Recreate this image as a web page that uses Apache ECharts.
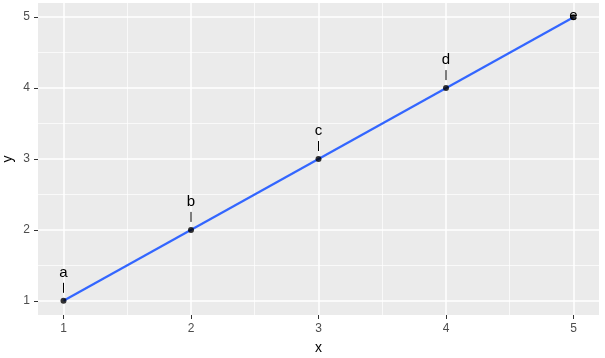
<!DOCTYPE html>
<html>
<head>
<meta charset="utf-8">
<script src="https://cdn.jsdelivr.net/npm/echarts@6/dist/echarts.min.js"></script>
<style>html,body{margin:0;padding:0;background:#fff;}#c{width:605px;height:358px;}</style>
</head>
<body>
<div id="c"></div>
<script>
var xValues = [1, 2, 3, 4, 5];
var yValues = [1, 2, 3, 4, 5];
var pointLabels = ['a', 'b', 'c', 'd', 'e'];
var fitLine = [[1, 1], [5, 5]];
var majorTicks = [1, 2, 3, 4, 5];
var minorTicks = [1.5, 2.5, 3.5, 4.5];
var axisMin = 0.8, axisMax = 5.2;

var points = xValues.map(function (x, i) { return [x, yValues[i], pointLabels[i]]; });

var gridLines = [];
majorTicks.forEach(function (v) {
  gridLines.push({ xAxis: v, lineStyle: { width: 1.5 } });
  gridLines.push({ yAxis: v, lineStyle: { width: 1.5 } });
});
minorTicks.forEach(function (v) {
  gridLines.push({ xAxis: v, lineStyle: { width: 0.7 } });
  gridLines.push({ yAxis: v, lineStyle: { width: 0.7 } });
});

var chart = echarts.init(document.getElementById('c'), null, { renderer: 'canvas' });
var font = 'Liberation Sans, Arial, sans-serif';
chart.setOption({
  animation: false,
  backgroundColor: '#ffffff',
  grid: { left: 38, right: 6, top: 3, bottom: 43, show: true, backgroundColor: '#EBEBEB', borderWidth: 0,
    containLabel: false, outerBoundsMode: 'none' },
  xAxis: {
    type: 'value', min: axisMin, max: axisMax,
    name: 'x', nameLocation: 'middle', nameGap: 26,
    nameTextStyle: { fontFamily: font, fontSize: 14, color: '#000' },
    axisLine: { show: false },
    splitLine: { show: false },
    axisTick: { show: true, length: 4, customValues: majorTicks, lineStyle: { color: '#333333', width: 1 } },
    axisLabel: { customValues: majorTicks, margin: 8, fontFamily: font, fontSize: 12, color: '#4D4D4D' }
  },
  yAxis: {
    type: 'value', min: axisMin, max: axisMax,
    name: 'y', nameLocation: 'middle', nameGap: 23, nameMoveOverlap: false,
    nameTextStyle: { fontFamily: font, fontSize: 14, color: '#000' },
    axisLine: { show: false },
    splitLine: { show: false },
    axisTick: { show: true, length: 4, customValues: majorTicks, lineStyle: { color: '#333333', width: 1 } },
    axisLabel: { customValues: majorTicks, margin: 8, fontFamily: font, fontSize: 12, color: '#4D4D4D' }
  },
  series: [
    {
      type: 'line', data: [], silent: true, z: 1,
      markLine: { silent: true, symbol: ['none', 'none'], label: { show: false }, z: 1,
        lineStyle: { color: '#ffffff', type: 'solid' }, data: gridLines, animation: false }
    },
    {
      type: 'line', data: fitLine, showSymbol: false, smooth: false,
      lineStyle: { color: '#3366FF', width: 2.2 }, z: 3
    },
    {
      type: 'scatter', data: points, symbol: 'circle', symbolSize: 6,
      itemStyle: { color: '#000000' }, z: 4
    },
    {
      type: 'custom', data: points, z: 5,
      renderItem: function (params, api) {
        var p = api.coord([api.value(0), api.value(1)]);
        var top = params.coordSys.y;
        var label = pointLabels[params.dataIndex];
        var children = [];
        if (p[1] - 34 < top) {
          children.push({ type: 'text', style: { text: label, x: p[0], y: p[1] - 1, align: 'center', verticalAlign: 'middle',
            font: '15px ' + font, fill: '#000' } });
        } else {
          children.push({ type: 'line', shape: { x1: p[0], y1: p[1] - 18, x2: p[0], y2: p[1] - 8 },
            style: { stroke: '#000', lineWidth: 1 } });
          children.push({ type: 'text', style: { text: label, x: p[0], y: p[1] - 28, align: 'center', verticalAlign: 'middle',
            font: '15px ' + font, fill: '#000' } });
        }
        return { type: 'group', children: children };
      }
    }
  ]
});
</script>
</body>
</html>
